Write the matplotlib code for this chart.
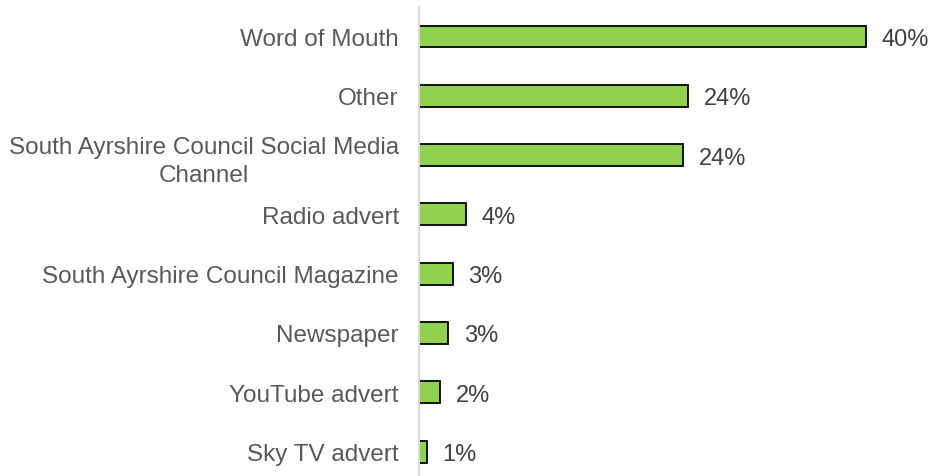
import matplotlib
matplotlib.use("Agg")
import matplotlib.pyplot as plt

# Data (percent of respondents)
categories = [
    "Word of Mouth",
    "Other",
    "South Ayrshire Council Social Media\nChannel",
    "Radio advert",
    "South Ayrshire Council Magazine",
    "Newspaper",
    "YouTube advert",
    "Sky TV advert",
]
values = [40.0, 24.1, 23.6, 4.2, 3.0, 2.6, 1.9, 0.7]

plt.rcParams["font.family"] = ["Liberation Sans", "DejaVu Sans"]

fig = plt.figure(figsize=(9.32, 4.77), dpi=100)
ax = fig.add_axes([419 / 932, -0.011, 503 / 932, 0.9946])

ypos = list(range(len(categories)))
ax.barh(ypos, values, height=0.37, color="#92D050", edgecolor="black", linewidth=1.3)

# value labels to the right of each bar
for y, v in zip(ypos, values):
    ax.text(v + 1.4, y, f"{v:.0f}%", va="center_baseline", ha="left", fontsize=17, color="#404040")

ax.set_yticks(ypos)
ax.set_yticklabels(categories, fontsize=17.5, color="#595959", multialignment="center")
for t in ax.get_yticklabels():
    t.set_linespacing(1.4)
ax.set_ylim(len(categories) - 0.5, -0.5)
ax.set_xlim(0, 45)
ax.tick_params(axis="y", length=0, pad=14.5)
ax.set_xticks([])

for side in ["top", "right", "bottom"]:
    ax.spines[side].set_visible(False)
ax.spines["left"].set_color("#d9d9d9")
ax.spines["left"].set_linewidth(1.5)

fig.savefig("out.png", dpi=100)
plt.close(fig)
